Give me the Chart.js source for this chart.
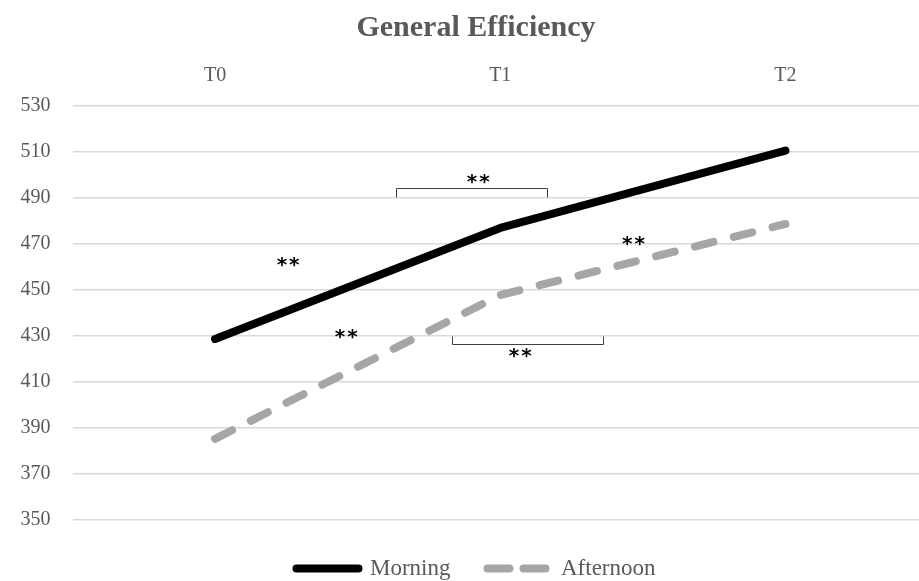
<!DOCTYPE html>
<html>
<head>
<meta charset="utf-8">
<script src="https://cdn.jsdelivr.net/npm/chart.js@4.4.1/dist/chart.umd.min.js"></script>
<style>
  html, body { margin: 0; padding: 0; background: #fff; overflow: hidden; }
  #wrap { width: 919px; height: 581px; overflow: hidden; }
  #box { width: 952px; height: 581px; }
</style>
</head>
<body>
<div id="wrap"><div id="box"><canvas id="chart"></canvas></div></div>
<script>
// --- Data ---
const categories = ['T0', 'T1', 'T2'];
const morning = [428.7, 477, 510.6];
const afternoon = [385.3, 447.8, 478.7];
const yTicks = [350, 370, 390, 410, 430, 450, 470, 490, 510, 530];

// significance marks: [category index, value]
const starMarks = [[0.256, 462.2], [0.46, 430.9], [0.923, 498.3], [1.07, 422.6], [1.467, 471.3]];
// brackets: [from index, to index, bar value, tick end value]
const brackets = [[0.635, 1.165, 494.3, 490.4], [0.832, 1.361, 426.5, 430]];

const SERIF = '"Liberation Serif", "DejaVu Serif", serif';
const GREY_TEXT = '#595959';

// Draws the ** marks and brackets in data coordinates
const annotations = {
  id: 'annotations',
  afterDatasetsDraw(chart) {
    const { ctx, scales: { x, y } } = chart;
    ctx.save();
    ctx.strokeStyle = '#404040';
    ctx.lineWidth = 1;
    brackets.forEach(([a, b, v, t]) => {
      const x1 = Math.round(x.getPixelForValue(a)) + 0.5;
      const x2 = Math.round(x.getPixelForValue(b)) + 0.5;
      const yb = Math.round(y.getPixelForValue(v)) + 0.5;
      const yt = Math.round(y.getPixelForValue(t)) + 0.5;
      ctx.beginPath();
      ctx.moveTo(x1, yt); ctx.lineTo(x1, yb); ctx.lineTo(x2, yb); ctx.lineTo(x2, yt);
      ctx.stroke();
    });
    ctx.fillStyle = '#000';
    ctx.font = 'bold 20px "DejaVu Sans", sans-serif';
    ctx.letterSpacing = '2px';
    ctx.textAlign = 'center';
    ctx.textBaseline = 'alphabetic';
    starMarks.forEach(([i, v]) => {
      ctx.fillText('**', x.getPixelForValue(i) + 1, y.getPixelForValue(v) + 9);
    });
    ctx.restore();
  }
};

// legend samples follow the dataset line styles
function legendLabels(chart) {
  const items = Chart.defaults.plugins.legend.labels.generateLabels(chart);
  items.forEach((item, i) => {
    const ds = chart.data.datasets[i];
    item.lineWidth = ds.borderWidth;
    item.lineDash = ds.borderDash ? [22, 14] : [];
    item.lineCap = 'round';
    item.strokeStyle = ds.borderColor;
    item.fillStyle = ds.borderColor;
    item.pointStyle = 'line';
  });
  return items;
}

new Chart(document.getElementById('chart'), {
  type: 'line',
  data: {
    labels: categories,
    datasets: [
      {
        label: 'Morning',
        data: morning,
        borderColor: '#000000',
        backgroundColor: '#000000',
        borderWidth: 8,
        borderCapStyle: 'round',
        borderJoinStyle: 'round',
        pointRadius: 0,
        tension: 0
      },
      {
        label: 'Afternoon',
        data: afternoon,
        borderColor: '#a6a6a6',
        backgroundColor: '#a6a6a6',
        borderWidth: 8,
        borderDash: [19, 21],
        borderCapStyle: 'round',
        borderJoinStyle: 'round',
        pointRadius: 0,
        tension: 0
      }
    ]
  },
  options: {
    responsive: true,
    maintainAspectRatio: false,
    animation: false,
    layout: { padding: { left: 0, right: 0, top: 0, bottom: -9 } },
    plugins: {
      title: {
        display: true,
        text: 'General Efficiency',
        color: GREY_TEXT,
        font: { family: SERIF, size: 30, weight: 'bold' },
        padding: { top: 10, bottom: 0 }
      },
      legend: {
        position: 'bottom',
        labels: {
          usePointStyle: true,
          pointStyle: 'line',
          pointStyleWidth: 62,
          color: GREY_TEXT,
          font: { family: SERIF, size: 23 },
          padding: 37,
          generateLabels: legendLabels
        }
      },
      tooltip: { enabled: false }
    },
    scales: {
      x: {
        position: 'top',
        offset: true,
        grid: { display: false, drawTicks: false },
        border: { display: false },
        ticks: { color: GREY_TEXT, font: { family: SERIF, size: 20 }, padding: 18 }
      },
      y: {
        min: 350,
        max: 530,
        afterBuildTicks(scale) { scale.ticks = yTicks.map(v => ({ value: v })); },
        afterFit(scale) { scale.width = 72.5; },
        grid: { color: '#d9d9d9', lineWidth: 1.5, drawTicks: false },
        border: { display: false },
        ticks: { color: GREY_TEXT, font: { family: SERIF, size: 20 }, padding: 22 }
      },
      yPad: {
        position: 'right',
        display: true,
        grid: { display: false, drawTicks: false },
        border: { display: false },
        ticks: { display: false },
        afterFit(scale) { scale.width = 24; }
      }
    }
  },
  plugins: [annotations]
});
</script>
</body>
</html>
